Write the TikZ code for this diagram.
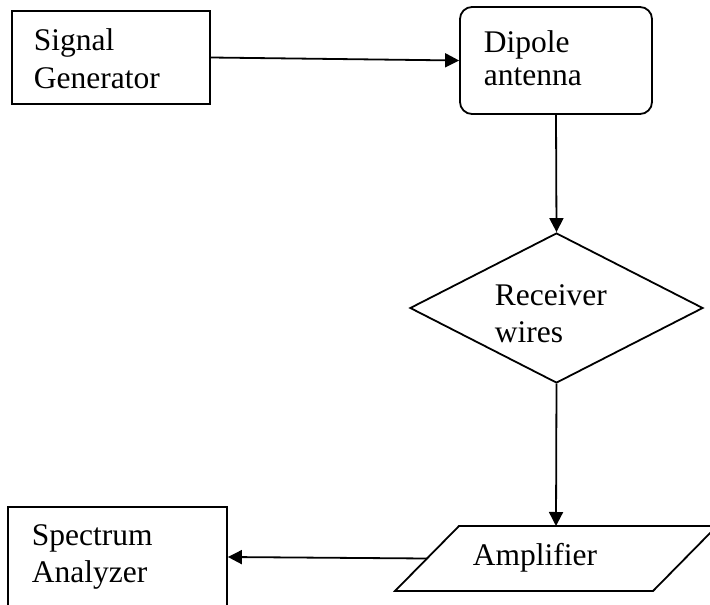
\documentclass[tikz,border=0pt]{standalone}
\usepackage{fontspec}
\setmainfont{Liberation Serif}
\usetikzlibrary{shapes.geometric,arrows.meta}
\begin{document}
\begin{tikzpicture}[x=1pt,y=-1pt,
  line width=1.8pt,
  box/.style={draw,rectangle,inner sep=0pt},
  rbox/.style={draw,rectangle,rounded corners=12pt,inner sep=0pt},
  dec/.style={draw,diamond,inner sep=0pt},
  lbl/.style={anchor=base west,inner sep=0pt,font=\fontsize{31.5pt}{38pt}\selectfont},
  conn/.style={-{Triangle[length=14pt,width=14pt]}}]
\useasboundingbox (0,0) rectangle (710,605);
\fill[white] (0,0) rectangle (710,605);
\clip (0,0) rectangle (710,605);

\node[box,minimum width=198pt,minimum height=93pt] (sg) at (111,57.5) {};
\node[rbox,minimum width=192pt,minimum height=107pt] (da) at (556,60.5) {};
\node[dec,minimum width=293pt,minimum height=150pt] (rw) at (556.5,308) {};
\node[box,minimum width=219pt,minimum height=100pt] (sa) at (117.5,557) {};

% Amplifier parallelogram
\coordinate (ampBL) at (395,591);
\coordinate (ampTL) at (459,526);
\coordinate (ampTR) at (717,526);
\coordinate (ampBR) at (653,591);
\coordinate (ampN) at (556,526);
\coordinate (ampW) at (427,558.5);
\draw[line join=miter] (ampBL) -- (ampTL) -- (ampTR) -- (ampBR) -- cycle;

\node[lbl] (t1) at (33,50) {Signal};
\node[lbl] (t2) at (33,88) {Generator};
\node[lbl] (t3) at (483,52) {Dipole};
\node[lbl] (t4) at (483,85) {antenna};
\node[lbl] (t5) at (494,305) {Receiver};
\node[lbl] (t6) at (494,342) {wires};
\node[lbl] (t7) at (472,565) {Amplifier};
\node[lbl] (t8) at (31,545) {Spectrum};
\node[lbl] (t9) at (31,582) {Analyzer};

\draw[conn] (sg.east) -- (da.west);
\draw[conn] (da.south) -- (rw.north);
\draw[conn] (rw.south) -- (ampN);
\draw[conn] (ampW) -- (sa.east);
\end{tikzpicture}
\end{document}
